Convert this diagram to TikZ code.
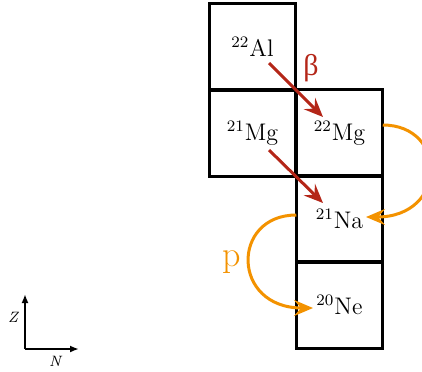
\documentclass[tikz,border=0pt]{standalone}
\usepackage{fontspec}
\newfontfamily\grk{Liberation Serif}
\usetikzlibrary{arrows.meta,calc}
\definecolor{dred}{RGB}{180,38,24}
\definecolor{orng}{RGB}{243,146,0}
\begin{document}
\begin{tikzpicture}[x=0.5pt,y=-0.5pt,
  cell/.style={draw,line width=1.5pt,minimum size=43.25pt,inner sep=0pt,outer sep=0pt,font=\fontsize{12}{14}\selectfont},
  decay/.style={line width=1.5pt,-{Stealth[length=9.5pt,width=8pt,inset=3.5pt]}},
  axis/.style={line width=1pt,-{Latex[length=4.5pt,width=3.5pt]}},
  axlabel/.style={font=\fontsize{7.5}{8}\selectfont\itshape,inner sep=0pt}]
\useasboundingbox (0,0) rectangle (422,371);
\node[cell] (al) at (252.5,47) {\textsuperscript{22}Al};
\node[cell] (mg21) at (252.5,133) {\textsuperscript{21}Mg};
\node[cell] (mg22) at (339.5,133) {\textsuperscript{22}Mg};
\node[cell] (na21) at (339.5,219) {\textsuperscript{21}Na};
\node[cell] (ne20) at (339.5,305) {\textsuperscript{20}Ne};
% beta decays
\draw[decay,dred] ($(al.center)+(16.5,16)$) -- ($(mg22.center)+(-16.5,-16)$);
\draw[decay,dred] ($(mg21.center)+(16.5,17)$) -- ($(na21.center)+(-16.5,-16)$);
\node[dred,font=\grk\fontsize{15}{16}\selectfont] (beta) at (311,68) {β};
% proton emissions
\draw[decay,orng] ($(mg22.east)+(0,-8)$) .. controls (448,125) and (448,217) .. ($(na21.center)+(26.5,-2)$);
\draw[decay,orng] ($(na21.west)+(0,-4)$) .. controls (231,215) and (231,308) .. ($(ne20.center)+(-26.5,3)$);
\node[orng,font=\fontsize{18}{20}\selectfont] (p) at (232,262) {p};
% axes
\coordinate (o) at (25,349);
\coordinate (zt) at (25,294);
\coordinate (nt) at (79,349);
\draw[axis] (o) -- (zt);
\draw[axis] (o) -- (nt);
\node[axlabel] (zl) at (13,317) {Z};
\node[axlabel] (nl) at (55,361) {N};
\end{tikzpicture}
\end{document}
